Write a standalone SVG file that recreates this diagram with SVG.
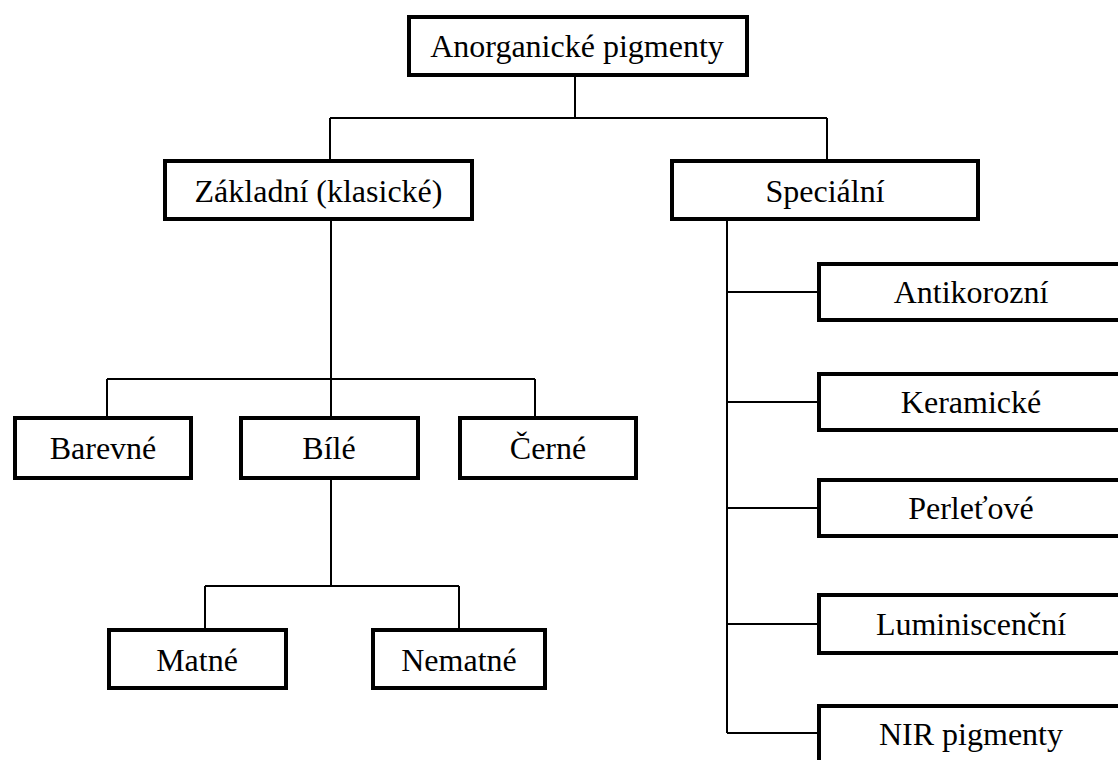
<svg xmlns="http://www.w3.org/2000/svg" width="1118" height="760" viewBox="0 0 1118 760">
<style>
.box{fill:#fff;stroke:#000;stroke-width:4}
.lbl{font-family:"Liberation Serif","Times New Roman",serif;font-size:32px;fill:#000;text-anchor:middle}
.con{fill:none;stroke:#000;stroke-width:2}
</style>
<rect width="1118" height="760" fill="#fff"/>
<g id="connectors">
<path class="con" d="M575 77V118M330 118H827M330 118V159M827 118V159"/>
<path class="con" d="M331 221V379M107 379H535M107 379V416M331 379V416M535 379V416"/>
<path class="con" d="M331 480V586M205 586H459M205 586V628M459 586V628"/>
<path class="con" d="M727 221V733M727 292H817M727 402H817M727 508H817M727 624H817M727 733H817"/>
</g>
<g id="n-root"><rect class="box" x="409" y="17" width="338" height="58"/><text class="lbl" x="577" y="57">Anorganické pigmenty</text></g>
<g id="n-zakladni"><rect class="box" x="165" y="161" width="307" height="58"/><text class="lbl" x="318.5" y="202">Základní (klasické)</text></g>
<g id="n-specialni"><rect class="box" x="672" y="161" width="306" height="58"/><text class="lbl" x="825" y="202">Speciální</text></g>
<g id="n-barevne"><rect class="box" x="15" y="418" width="176" height="60"/><text class="lbl" x="103" y="459">Barevné</text></g>
<g id="n-bile"><rect class="box" x="241" y="418" width="177" height="60"/><text class="lbl" x="329" y="459">Bílé</text></g>
<g id="n-cerne"><rect class="box" x="460" y="418" width="176" height="60"/><text class="lbl" x="548" y="459">Černé</text></g>
<g id="n-matne"><rect class="box" x="109" y="630" width="177" height="58"/><text class="lbl" x="197" y="671">Matné</text></g>
<g id="n-nematne"><rect class="box" x="373" y="630" width="172" height="58"/><text class="lbl" x="459" y="671">Nematné</text></g>
<g id="n-antikorozni"><rect class="box" x="819" y="264" width="310" height="56"/><text class="lbl" x="971" y="303">Antikorozní</text></g>
<g id="n-keramicke"><rect class="box" x="819" y="374" width="310" height="56"/><text class="lbl" x="971" y="413">Keramické</text></g>
<g id="n-perletove"><rect class="box" x="819" y="480" width="310" height="56"/><text class="lbl" x="971" y="519">Perleťové</text></g>
<g id="n-luminiscencni"><rect class="box" x="819" y="595" width="310" height="58"/><text class="lbl" x="971" y="635">Luminiscenční</text></g>
<g id="n-nir"><rect class="box" x="819" y="706" width="310" height="58"/><text class="lbl" x="971" y="745">NIR pigmenty</text></g>
</svg>
